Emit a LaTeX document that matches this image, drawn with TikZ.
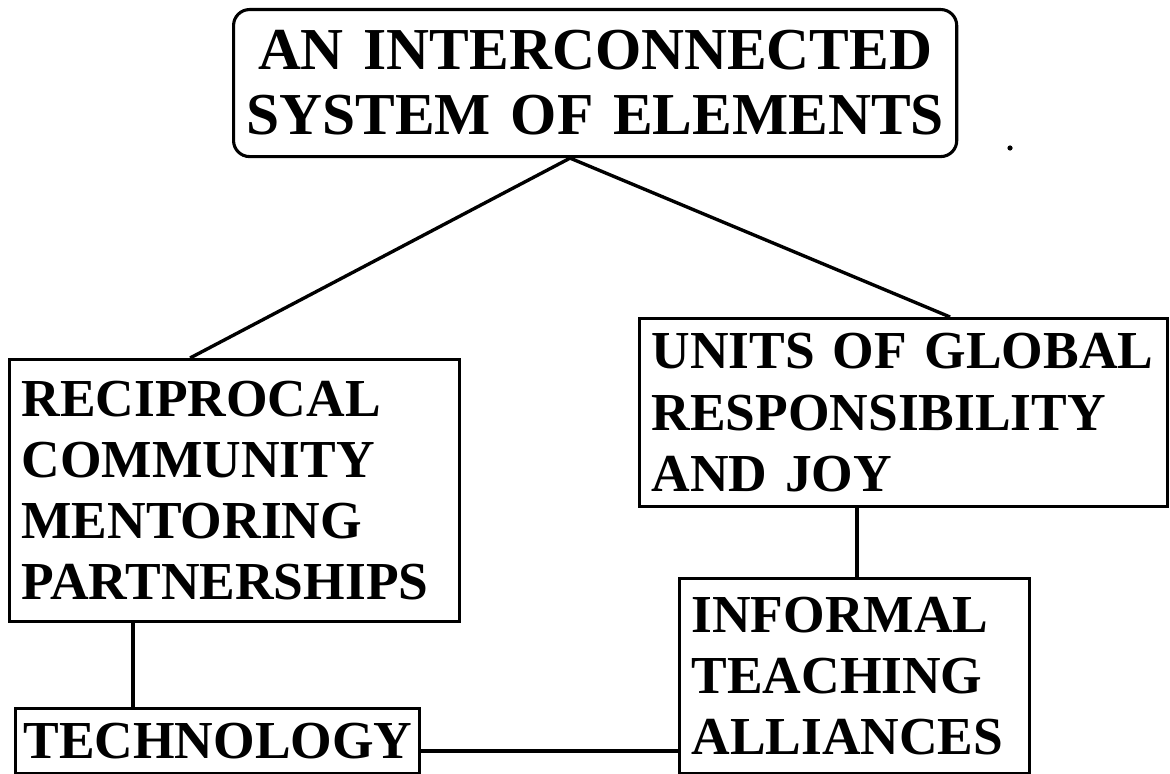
\documentclass[tikz,border=0pt]{standalone}
\usepackage{fontspec}
\setmainfont{Liberation Serif}
\usetikzlibrary{calc}
\begin{document}
\begin{tikzpicture}[x=0.025cm, y=-0.025cm,
  box/.style={draw, line width=2.2pt, anchor=north west, inner xsep=0.3cm, inner ysep=0pt,
    align=left, font=\fontsize{38}{43.4}\selectfont\bfseries},
  link/.style={line width=2.4pt}]
\useasboundingbox (0,0) rectangle (1170,774);

\node[box, rounded corners=0.4cm, align=center, text width=17.475cm, minimum height=3.675cm,
  font=\fontsize{42.3}{46.2}\selectfont\bfseries] (top) at (232,8)
  {\mbox{AN INTERCONNECTED}\\\mbox{SYSTEM OF ELEMENTS}};

\node[box, text width=10.65cm, minimum height=6.55cm] (recip) at (8,358)
  {\mbox{RECIPROCAL}\\\mbox{COMMUNITY}\\\mbox{MENTORING}\\\mbox{PARTNERSHIPS}};

\node[box, text width=12.6cm, minimum height=4.7cm] (units) at (638,317)
  {\mbox{UNITS OF GLOBAL}\\\mbox{RESPONSIBILITY}\\\mbox{AND JOY}};

\node[box, text width=8.15cm, minimum height=4.875cm] (informal) at (678,577)
  {\mbox{INFORMAL}\\\mbox{TEACHING}\\\mbox{ALLIANCES}};

\node[box, inner xsep=0.2cm, text width=9.7cm, minimum height=1.625cm] (tech) at (14,707)
  {\mbox{TECHNOLOGY}};

\coordinate (apex) at ([xshift=8.45cm]top.south west);
\coordinate (recipTop) at ([xshift=4.55cm]recip.north west);
\coordinate (unitsTop) at ([xshift=7.8cm]units.north west);
\coordinate (recipBot) at ([xshift=3.125cm]recip.south west);
\coordinate (unitsBot) at ([xshift=5.475cm]units.south west);
\coordinate (techR) at ([yshift=-0.25cm]tech.east);

\draw[link] (apex) -- (recipTop);
\draw[link] (apex) -- (unitsTop);
\draw[link] (recipBot) -- (recipBot |- tech.north);
\draw[link] (unitsBot) -- (unitsBot |- informal.north);
\draw[link] (techR) -- (techR -| informal.west);

\fill (1010,148) circle[radius=0.065cm];
\end{tikzpicture}
\end{document}
